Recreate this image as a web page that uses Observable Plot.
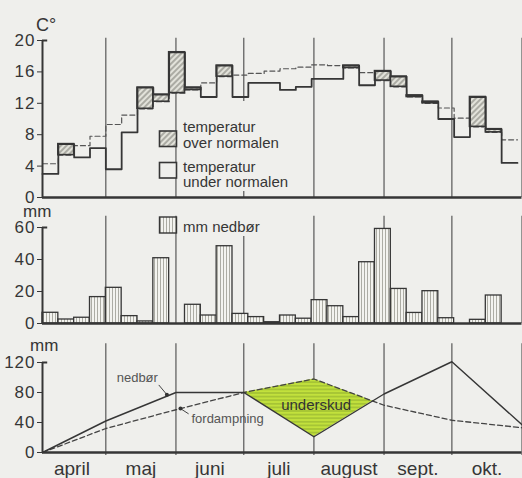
<!DOCTYPE html>
<html><head><meta charset="utf-8">
<script src="https://cdn.jsdelivr.net/npm/d3@7"></script>
<script src="https://cdn.jsdelivr.net/npm/@observablehq/plot@0.6"></script>
<style>
html,body{margin:0;padding:0;background:#efefec;}
#chart{position:relative;width:522px;height:478px;background:#efefec;overflow:hidden;font-family:"Liberation Sans",Arial,sans-serif;color:#363636}
#chart > svg{position:absolute;left:0;overflow:visible}
g[aria-label="y-axis tick label"] text{letter-spacing:1px;font-size:17px}
</style></head><body><div id="chart"></div>
<script>
// ---------- data ----------
const months = ["april","maj","juni","juli","august","sept.","okt."];
const monthStart = [0,30,61,91,122,153,183];   // day number, 1 April = 0
const seasonEnd = 214;                          // 1 November
const firstWeekDay = 2;                         // first weekly period starts 3 April
const weekLength = 7;

// weekly mean temperature (°C) and normal
const temp   = [3.0,6.8,5.1,6.3,3.6,8.3,14.0,13.1,18.5,14.0,12.8,16.8,12.8,14.6,14.6,13.7,14.1,15.1,15.1,16.8,14.3,16.1,15.4,13.0,12.2,10.0,7.7,12.8,8.7,4.4];
const normal = [4.3,5.4,6.6,7.8,9.3,10.5,11.3,12.2,13.3,13.7,14.6,15.4,15.6,15.8,16.1,16.4,16.6,16.9,16.8,16.5,15.9,14.9,14.1,12.8,12.0,11.4,10.1,9.0,8.3,7.35];
// weekly precipitation (mm)
const precip = [6.7,2.5,3.6,16.5,22.3,4.6,1.3,40.8,0,11.7,5.0,48.3,6.0,4.0,0.8,5.0,3.0,14.6,10.8,4.0,38.3,59.1,21.6,6.6,20.2,3.3,0,2.3,17.5,0];

// monthly precipitation vs evaporation (mm)
const curveDays   = [2,30,61,91,122,153,183,214];
const nedbor      = [0,42,80,80,21,78,121,37];
const fordampning = [0,32,57,80,98,63,43,33];

const tempTicks = [0,4,8,12,16,20];
const precipTicks = [0,20,40,60];
const curveTicks = [0,40,80,120];

// ---------- derived ----------
const weeks = temp.map((t,i)=>({x1:firstWeekDay+weekLength*i, x2:firstWeekDay+weekLength*(i+1), t, n:normal[i], p:precip[i]}));
const last = weeks[weeks.length-1];
const stepT = [...weeks.map(w=>({x:w.x1,y:w.t})), {x:last.x2,y:last.t}];
const stepN = [...weeks.map(w=>({x:w.x1,y:w.n})), {x:last.x2,y:last.n}];
const over = weeks.filter(w=>w.t>w.n);
const bounds = [...monthStart.slice(1), seasonEnd];
const mids = monthStart.map((s,i)=>(s+(i<monthStart.length-1?monthStart[i+1]:seasonEnd))/2);
const labelAt = new Map(mids.map((m,i)=>[m,months[i]]));
const curve = curveDays.map((d,i)=>({x:d, n:nedbor[i], f:fordampning[i]}));
function at(arr, day){
  for(let i=0;i<curveDays.length-1;i++){
    if(day>=curveDays[i] && day<=curveDays[i+1]){
      const t=(day-curveDays[i])/(curveDays[i+1]-curveDays[i]);
      return arr[i]+t*(arr[i+1]-arr[i]);
    }
  }
  return arr[arr.length-1];
}
// deficit region (fordampning above nedbør)
const deficit = [];
for(let i=0;i<curveDays.length;i++){
  const di=fordampning[i]-nedbor[i];
  const prev=i>0?fordampning[i-1]-nedbor[i-1]:-1, next=i<curveDays.length-1?fordampning[i+1]-nedbor[i+1]:-1;
  if(di>0 || (di===0 && (prev>0||next>0))) deficit.push({x:curveDays[i], n:nedbor[i], f:fordampning[i]});
  if(i<curveDays.length-1){
    const dj=next;
    if((di>0&&dj<0)||(di<0&&dj>0)){
      const t=di/(di-dj);
      const v=nedbor[i]+t*(nedbor[i+1]-nedbor[i]);
      deficit.push({x:curveDays[i]+t*(curveDays[i+1]-curveDays[i]), n:v, f:v});
    }
  }
}

// ---------- plots ----------
const ink="#363636";
const common = {
  width:522, marginLeft:42, marginRight:0.5,
  x:{domain:[firstWeekDay,seasonEnd]},
  style:{background:"transparent", color:ink, fontFamily:"Liberation Sans, Arial, sans-serif", fontSize:"15px", overflow:"visible"}
};
const axisRules = (top)=>[
  Plot.ruleY([0],{stroke:ink,strokeWidth:2.4}),
  Plot.ruleX([firstWeekDay],{y1:0,y2:top,stroke:ink,strokeWidth:2}),
  Plot.ruleY([top],{x1:firstWeekDay,x2:firstWeekDay+2.3,stroke:ink,strokeWidth:2})
];

const p1 = Plot.plot({...common, height:200, marginTop:40, marginBottom:3,
  x:{...common.x, axis:null}, y:{domain:[0,20]},
  marks:[
    Plot.ruleX(bounds,{y1:0,y2:20.3,stroke:"#4a4a4a",strokeWidth:1.1}),
    Plot.rect(over,{x1:"x1",x2:"x2",y1:"n",y2:"t",fill:"url(#dhatch)"}),
    Plot.line(stepN,{x:"x",y:"y",curve:"step-after",stroke:"#555",strokeWidth:1.2,strokeDasharray:"5,3"}),
    Plot.rect(over,{x1:"x1",x2:"x2",y1:"n",y2:"t",fill:"none",stroke:ink,strokeWidth:1.6}),
    Plot.line(stepT,{x:"x",y:"y",curve:"step-after",stroke:ink,strokeWidth:1.8}),
    ...axisRules(20),
    Plot.axisY({ticks:tempTicks,tickSize:5,tickPadding:2,label:null})
  ]});

const p2 = Plot.plot({...common, height:130, marginTop:27, marginBottom:7,
  x:{...common.x, axis:null}, y:{domain:[0,60]},
  marks:[
    Plot.ruleX(bounds,{y1:0,y2:67,stroke:"#4a4a4a",strokeWidth:1.1}),
    Plot.rectY(weeks.filter(w=>w.p>0),{x1:"x1",x2:"x2",y:"p",fill:"url(#vhatch)",stroke:ink,strokeWidth:1.3}),
    ...axisRules(60),
    Plot.axisY({ticks:precipTicks,tickSize:5,tickPadding:2,label:null})
  ]});

const nTip = {x:57, y:at(nedbor,57)+2};
const fTip = {x:63, y:at(fordampning,63)};
const uLabel = {x:123, y:62.5};
const p3 = Plot.plot({...common, height:148, marginTop:32, marginBottom:26,
  y:{domain:[0,120]},
  marks:[
    Plot.ruleX(bounds,{y1:-4,y2:145,stroke:"#4a4a4a",strokeWidth:1.1}),
    Plot.areaY(deficit,{x:"x",y1:"n",y2:"f",fill:"url(#green)"}),
    Plot.line(curve,{x:"x",y:"f",stroke:"#444",strokeWidth:1.3,strokeDasharray:"5,3"}),
    Plot.line(curve,{x:"x",y:"n",stroke:ink,strokeWidth:1.4}),
    Plot.text([uLabel],{x:"x",y:"y",text:()=> "underskud",fontSize:15,fill:"#333",textAnchor:"middle"}),
    Plot.text([nTip],{x:"x",y:"y",text:()=> "nedbør",fontSize:13,fill:"#555",textAnchor:"end",lineAnchor:"bottom",dx:-9,dy:-13}),
    Plot.link([nTip],{x1:d=>d.x-3.6,y1:d=>d.y+13,x2:"x",y2:"y",stroke:"#444",strokeWidth:1}),
    Plot.dot([nTip],{x:"x",y:"y",r:2,fill:"#333"}),
    Plot.text([fTip],{x:"x",y:"y",text:()=> "fordampning",fontSize:13,fill:"#555",textAnchor:"start",lineAnchor:"bottom",dx:11,dy:14}),
    Plot.link([fTip],{x1:d=>d.x+3.6,y1:d=>d.y-7,x2:"x",y2:"y",stroke:"#444",strokeWidth:1}),
    Plot.dot([fTip],{x:"x",y:"y",r:2,fill:"#333"}),
    ...axisRules(120),
    Plot.axisY({ticks:curveTicks,tickSize:5,tickPadding:2,label:null}),
    Plot.axisX({ticks:mids,tickFormat:d=>labelAt.get(d),tickSize:0,tickPadding:9,fontSize:19,label:null})
  ]});

const chart = document.getElementById("chart");
p1.style.top="0px"; p2.style.top="200px"; p3.style.top="330px";
chart.append(p1,p2,p3);

// overlay: patterns, axis units, legends
const bg="#efefec";
const ns="http://www.w3.org/2000/svg";
const ov=document.createElementNS(ns,"svg");
ov.setAttribute("width",522); ov.setAttribute("height",478);
ov.style.cssText="position:absolute;left:0;top:0;pointer-events:none;overflow:visible";
ov.innerHTML=`
<defs>
 <pattern id="dhatch" patternUnits="userSpaceOnUse" width="4" height="4" patternTransform="rotate(45)">
  <rect width="4" height="4" fill="#e2e2da"/><line x1="2" y1="0" x2="2" y2="4" stroke="#8e8e86" stroke-width="1.3"/>
 </pattern>
 <pattern id="vhatch" patternUnits="userSpaceOnUse" width="3" height="3">
  <rect width="3" height="3" fill="#f3f3ef"/><line x1="1.5" y1="0" x2="1.5" y2="3" stroke="#a4a49c" stroke-width="0.9"/>
 </pattern>
 <pattern id="green" patternUnits="userSpaceOnUse" width="4" height="3.6">
  <rect width="4" height="3.6" fill="#c2e13c"/><line x1="0" y1="1.8" x2="4" y2="1.8" stroke="#86a52c" stroke-width="0.9"/>
 </pattern>
</defs>
<g fill="${ink}" font-family="Liberation Sans, Arial, sans-serif">
 <text x="36" y="31" font-size="18">C°</text>
 <rect x="179" y="101" width="118" height="90" fill="${bg}"/>
 <rect x="159.5" y="131" width="17" height="15.5" fill="url(#dhatch)" stroke="${ink}" stroke-width="1.6"/>
 <text x="183" y="131.5" font-size="15">temperatur</text>
 <text x="183" y="148" font-size="15">over normalen</text>
 <rect x="159.5" y="162.5" width="17" height="15.5" fill="${bg}" stroke="${ink}" stroke-width="1.6"/>
 <text x="183" y="171.5" font-size="15">temperatur</text>
 <text x="183" y="187" font-size="15">under normalen</text>
 <text x="23" y="216.5" font-size="17">mm</text>
 <rect x="180" y="213" width="86" height="23" fill="${bg}"/>
 <rect x="159.5" y="217" width="17" height="16" fill="url(#vhatch)" stroke="${ink}" stroke-width="1.4"/>
 <text x="183" y="232" font-size="15">mm nedbør</text>
 <text x="30" y="350.5" font-size="17">mm</text>
</g>`;
chart.append(ov);
</script></body></html>
